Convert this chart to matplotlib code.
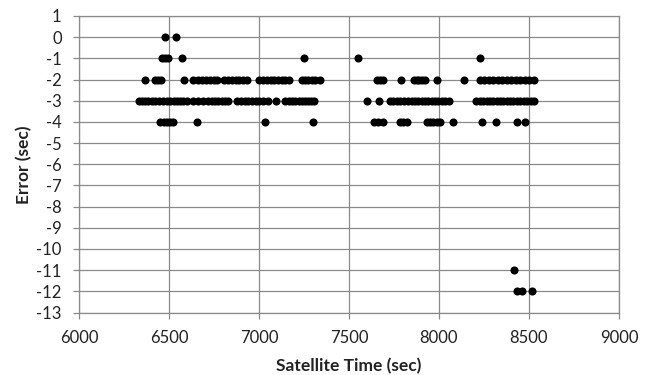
"""Scatter of satellite clock error against satellite time."""

import matplotlib

matplotlib.use("Agg")
import matplotlib.pyplot as plt

# error value (sec) -> satellite times (sec) at which that error was seen
times_0 = [6480, 6540]
times_m1 = [6460, 6478, 6492, 6570, 7250, 7552, 8228]
times_m2 = [
    6367, 6420, 6440, 6458, 6583, 6635, 6660, 6681, 6705, 6728, 6750, 6769,
    6807, 6828, 6848, 6870, 6889, 6910, 6931, 7002, 7022, 7043, 7065, 7085,
    7105, 7126, 7147, 7167, 7237, 7255, 7274, 7292, 7311, 7339, 7654, 7672,
    7690, 7787, 7860, 7875, 7890, 7905, 7920, 7987, 8141, 8225, 8250, 8275,
    8300, 8325, 8350, 8375, 8400, 8425, 8450, 8475, 8500, 8525,
]
times_m3 = [
    6333, 6348, 6368, 6385, 6405, 6422, 6445, 6468, 6490, 6506, 6525, 6543,
    6560, 6580, 6600, 6635, 6660, 6691, 6715, 6737, 6755, 6774, 6793, 6811,
    6830, 6880, 6900, 6920, 6941, 6960, 6982, 7002, 7024, 7050, 7094, 7144,
    7165, 7185, 7200, 7220, 7237, 7255, 7274, 7290, 7306, 7600, 7667, 7725,
    7745, 7765, 7785, 7805, 7825, 7848, 7865, 7885, 7905, 7922, 7940, 7959,
    7978, 7996, 8015, 8033, 8057, 8205, 8225, 8246, 8265, 8283, 8300, 8320,
    8340, 8357, 8375, 8394, 8412, 8431, 8450, 8470, 8490, 8510, 8528,
]
times_m4 = [
    6450, 6470, 6487, 6505, 6524, 6654, 7033, 7300, 7641, 7660, 7691, 7783,
    7800, 7820, 7931, 7950, 7968, 7987, 8005, 8076, 8237, 8317, 8431, 8478,
]
times_m11 = [8417]
times_m12 = [8435, 8459, 8517]

series = {
    0: times_0,
    -1: times_m1,
    -2: times_m2,
    -3: times_m3,
    -4: times_m4,
    -11: times_m11,
    -12: times_m12,
}

x_ticks = [6000, 6500, 7000, 7500, 8000, 8500, 9000]
y_ticks = list(range(1, -14, -1))

plt.rcParams["font.family"] = ["Lato", "DejaVu Sans"]
plt.rcParams["axes.unicode_minus"] = False
grid_color = "#8a8a8a"
text_color = "#222222"

fig = plt.figure(figsize=(6.52, 3.75), dpi=100)
ax = fig.add_axes([79 / 652, 1 - 312.5 / 375, 540 / 652, 296.5 / 375])

xs, ys = [], []
for err, ts in series.items():
    xs.extend(ts)
    ys.extend([err] * len(ts))
ax.scatter(xs, ys, s=34, color="black", linewidths=0, zorder=3)

ax.set_xlim(6000, 9000)
ax.set_ylim(-13, 1)
ax.set_xticks(x_ticks)
ax.set_yticks(y_ticks)
ax.grid(True, color=grid_color, linewidth=0.9)
ax.set_axisbelow(True)
for side in ax.spines.values():
    side.set_color(grid_color)
    side.set_linewidth(0.9)
ax.tick_params(direction="out", length=4.5, width=0.9, color=grid_color,
               labelsize=12, labelcolor=text_color)
ax.tick_params(axis="x", pad=8)
ax.tick_params(axis="y", pad=8)

ax.set_xlabel("Satellite Time (sec)", fontsize=12.5, fontweight="bold",
              color=text_color, labelpad=9)
ax.set_ylabel("Error (sec)", fontsize=12.5, fontweight="bold",
              color=text_color, labelpad=3)

fig.savefig("out.png", dpi=100)
